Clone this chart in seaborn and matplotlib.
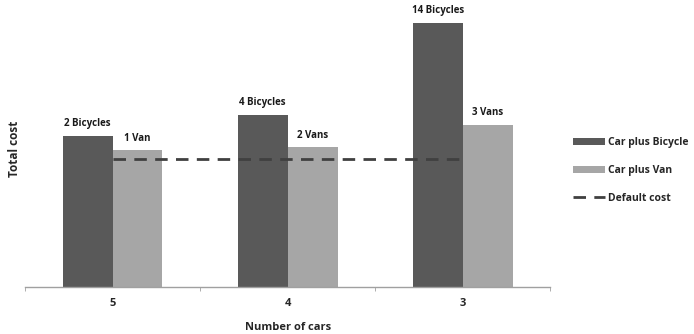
import matplotlib
matplotlib.use("Agg")
import matplotlib.pyplot as plt
import pandas as pd
import seaborn as sns
from matplotlib.ticker import FixedLocator

# chart values (arbitrary cost units)
cars = ["5", "4", "3"]
bicycle_cost = [148, 169, 259]
van_cost = [134, 137, 159]
default_cost = [126, 126, 126]
bicycle_labels = ["2 Bicycles", "4 Bicycles", "14 Bicycles"]
van_labels = ["1 Van", "2 Vans", "3 Vans"]
series = ["Car plus Bicycle", "Car plus Van"]

df = pd.DataFrame({
    "cars": cars * 2,
    "cost": bicycle_cost + van_cost,
    "kind": [series[0]] * len(cars) + [series[1]] * len(cars),
})
df_default = pd.DataFrame({"cars": cars, "cost": default_cost})

sns.set_style("white")
plt.rcParams["font.family"] = ["Open Sans", "DejaVu Sans"]

fig = plt.figure(figsize=(6.94, 3.34), dpi=100)
ax = fig.add_axes([0.036, 0.141, 0.757, 0.829])

sns.barplot(data=df, x="cars", y="cost", hue="kind", order=cars,
            hue_order=series, palette=["#595959", "#a6a6a6"],
            width=0.57, saturation=1, linewidth=0, ax=ax)
sns.pointplot(data=df_default, x="cars", y="cost", order=cars,
              color="#404040", markers="", linestyles="--",
              label="Default cost", ax=ax)
for ln in ax.lines:
    ln.set_linewidth(2)
    ln.set_dashes([4.5, 3])

# labels above bars
for cont, labels in zip(ax.containers, [bicycle_labels, van_labels]):
    ax.bar_label(cont, labels=labels, padding=5, fontsize=7,
                 fontweight="bold", color="#1a1a1a")

ax.set_xlim(-0.5, 2.5)
ax.set_ylim(0, 272)
ax.set_yticks([])
ax.set_xlabel("Number of cars", fontsize=8, fontweight="bold", labelpad=9)
ax.set_ylabel("Total cost", fontsize=8.5, fontweight="bold", labelpad=3)
ax.tick_params(axis="x", which="major", length=0, labelsize=8, pad=8)
ax.xaxis.set_minor_locator(FixedLocator([-0.5, 0.5, 1.5, 2.5]))
ax.tick_params(axis="x", which="minor", length=3, color="#a0a0a0",
               direction="out", bottom=True)
for lab in ax.get_xticklabels():
    lab.set_fontweight("bold")

for side in ["top", "right", "left"]:
    ax.spines[side].set_visible(False)
ax.spines["bottom"].set_color("#a0a0a0")
ax.spines["bottom"].set_linewidth(1)

handles, labels = ax.get_legend_handles_labels()
ax.legend(handles, labels, loc="center left", bbox_to_anchor=(1.03, 0.42),
          frameon=False, prop={"size": 7.5, "weight": "bold"},
          handlelength=3.0, handleheight=0.6, handletextpad=0.3,
          labelspacing=1.6, borderaxespad=0.3)

fig.savefig("out.png", dpi=100)
